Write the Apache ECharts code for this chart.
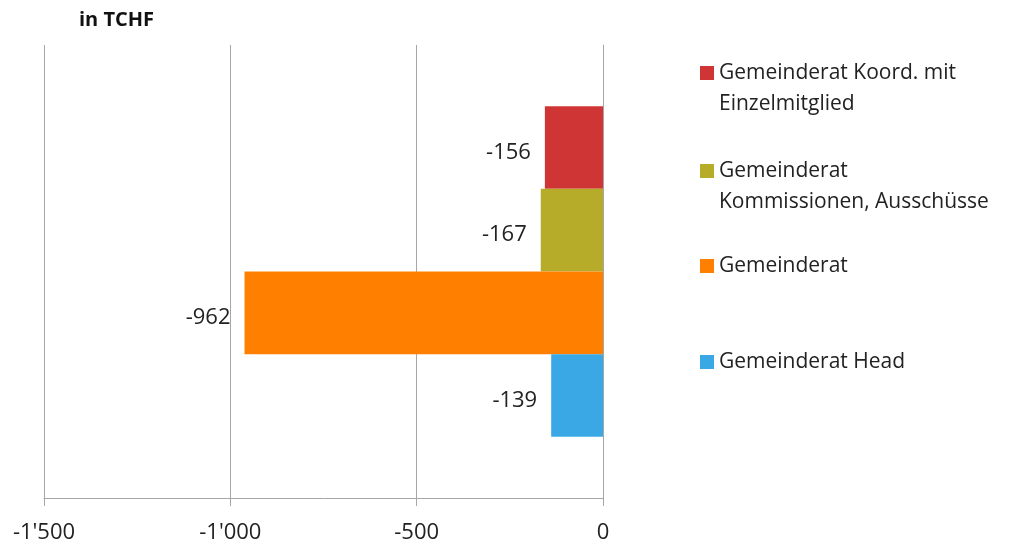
<!DOCTYPE html>
<html>
<head>
<meta charset="utf-8">
<script src="https://cdn.jsdelivr.net/npm/echarts@6/dist/echarts.min.js"></script>
<style>
html,body{margin:0;padding:0;background:#fff;}
#chart{width:1024px;height:549px;}
</style>
</head>
<body>
<div id="chart"></div>
<script>
// Data
const categories = [''];
const seriesNames = [
  'Gemeinderat Koord. mit Einzelmitglied',
  'Gemeinderat Kommissionen, Ausschüsse',
  'Gemeinderat',
  'Gemeinderat Head'
];
const legendLabels = [
  'Gemeinderat Koord. mit\nEinzelmitglied',
  'Gemeinderat\nKommissionen, Ausschüsse',
  'Gemeinderat',
  'Gemeinderat Head'
];
const valuesKoord = [-156];
const valuesKommissionen = [-167];
const valuesGemeinderat = [-962];
const valuesHead = [-139];
const seriesColors = ['#CF3535', '#B7AB2A', '#FF8000', '#3AA8E4'];
const xMin = -1500, xMax = 0, xInterval = 500;

const FONT = '"Open Sans", "Noto Sans", sans-serif';
const allValues = [valuesKoord, valuesKommissionen, valuesGemeinderat, valuesHead];

function fmtThousands(v) {
  const s = Math.abs(v).toString().replace(/\B(?=(\d{3})+(?!\d))/g, "'");
  return (v < 0 ? '-' : '') + s;
}

const legendCenters = [73, 171, 266, 362];
const legends = seriesNames.map((name, i) => {
  const twoLine = legendLabels[i].indexOf('\n') >= 0;
  return {
    data: [name],
    left: 700,
    top: legendCenters[i] - (twoLine ? 46.5 : 15.5),
    orient: 'vertical',
    padding: 0,
    itemWidth: 14,
    itemHeight: 14,
    itemGap: 0,
    selectedMode: false,
    icon: 'rect',
    // a leading blank line keeps the icon level with the first text line
    formatter: () => (twoLine ? '\n' : '') + legendLabels[i],
    textStyle: {
      fontFamily: FONT,
      fontSize: 21,
      color: '#222',
      lineHeight: 31
    }
  };
});

const chart = echarts.init(document.getElementById('chart'), null, {renderer: 'canvas'});
chart.setOption({
  animation: false,
  backgroundColor: '#fff',
  title: {
    text: 'in TCHF',
    left: 79,
    top: 10,
    padding: 0,
    textStyle: {fontFamily: FONT, fontSize: 20, fontWeight: 'bold', color: '#111'}
  },
  legend: legends,
  grid: {left: 44, right: 421, top: 45, bottom: 51, containLabel: false, outerBoundsMode: 'none'},
  xAxis: {
    type: 'value',
    min: xMin,
    max: xMax,
    interval: xInterval,
    axisLine: {show: true, lineStyle: {color: '#A6A6A6', width: 1}},
    axisTick: {show: true, length: 8, inside: false, lineStyle: {color: '#A6A6A6'}},
    axisLabel: {
      fontFamily: FONT, fontSize: 22, color: '#222', margin: 24,
      formatter: v => fmtThousands(v)
    },
    splitLine: {show: true, lineStyle: {color: '#A6A6A6', width: 1}}
  },
  yAxis: {
    type: 'category',
    data: categories,
    axisLine: {show: true, onZero: true, lineStyle: {color: '#A6A6A6'}},
    axisTick: {show: false},
    axisLabel: {show: false},
    splitLine: {show: false}
  },
  series: seriesNames.map((name, i) => ({
    name: name,
    type: 'bar',
    data: allValues[i],
    barGap: '0%',
    barCategoryGap: '27%',
    itemStyle: {color: seriesColors[i]},
    label: {
      show: true,
      position: 'left',
      distance: 14,
      offset: [0, 5],
      fontFamily: FONT,
      fontSize: 22,
      color: '#222',
      formatter: p => fmtThousands(p.value)
    }
  }))
});
</script>
</body>
</html>
